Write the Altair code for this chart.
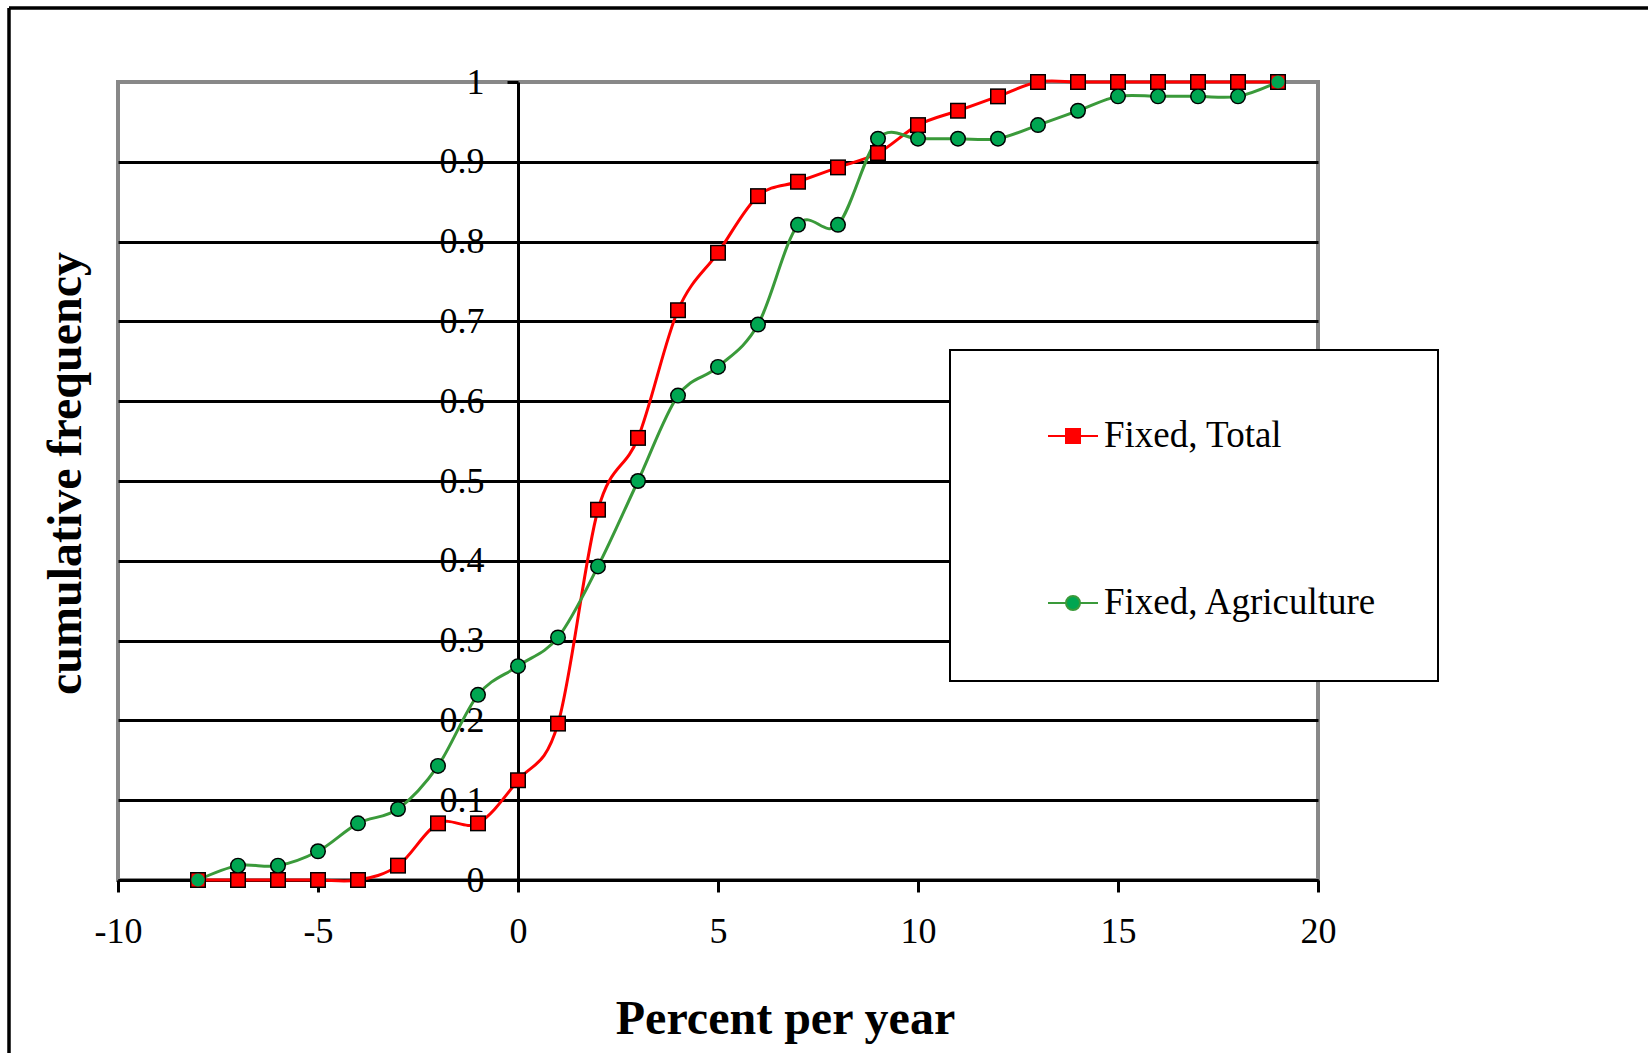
import altair as alt
import pandas as pd

# Growth rate (percent per year) and cumulative frequency of each series
growth = list(range(-8, 20))
fixed_total = [0, 0, 0, 0, 0, 0.018, 0.071, 0.071, 0.125, 0.196, 0.464, 0.554,
               0.714, 0.786, 0.857, 0.875, 0.893, 0.911, 0.946, 0.964, 0.982,
               1, 1, 1, 1, 1, 1, 1]
fixed_agri = [0, 0.018, 0.018, 0.036, 0.071, 0.089, 0.143, 0.232, 0.268, 0.304,
              0.393, 0.5, 0.607, 0.643, 0.696, 0.821, 0.821, 0.929, 0.929, 0.929,
              0.929, 0.946, 0.964, 0.982, 0.982, 0.982, 0.982, 1]

series_names = ["Fixed, Total", "Fixed, Agriculture"]
line_colors = {"Fixed, Total": "#ff0000", "Fixed, Agriculture": "#3a9a3a"}
fill_colors = {"Fixed, Total": "#ff0000", "Fixed, Agriculture": "#00a651"}
marker_shapes = {"Fixed, Total": "square", "Fixed, Agriculture": "circle"}

x_ticks = [-10, -5, 0, 5, 10, 15, 20]
y_ticks = [0, 0.1, 0.2, 0.3, 0.4, 0.5, 0.6, 0.7, 0.8, 0.9, 1]

rows = []
for name, values in zip(series_names, [fixed_total, fixed_agri]):
    for g, v in zip(growth, values):
        rows.append({"growth": g, "freq": v, "series": name, "marker": name})
df = pd.DataFrame(rows)

# alphabetical order, as used by the data-driven line-colour and shape scales
alpha_names = sorted(series_names)

W, H = 1200, 798
X_MIN, X_MAX = -10, 20
zero_px = (0 - X_MIN) / (X_MAX - X_MIN) * W  # where the vertical axis crosses

FONT = "Liberation Serif"

x_enc = alt.X(
    "growth:Q",
    scale=alt.Scale(domain=[X_MIN, X_MAX], nice=False, zero=False),
    axis=alt.Axis(
        values=x_ticks,
        labelExpr="'' + datum.value",
        grid=False,
        domainColor="black", domainWidth=3,
        tickColor="black", tickWidth=3, tickSize=12,
        labelFont=FONT, labelFontSize=36, labelColor="black",
        labelPadding=22, labelFlush=False,
        title="Percent per year",
        titleFont=FONT, titleFontSize=48, titleFontWeight="bold",
        titleColor="black", titleX=667, titleY=153,
        titleBaseline="alphabetic",
    ),
)

y_enc = alt.Y(
    "freq:Q",
    scale=alt.Scale(domain=[0, 1], nice=False),
    axis=alt.Axis(
        values=y_ticks,
        format="~g",
        offset=-zero_px,
        domainColor="black", domainWidth=3,
        tickColor="black", tickWidth=3, tickSize=11,
        labelFont=FONT, labelFontSize=36, labelColor="black",
        labelPadding=23,
        gridColor="black", gridWidth=3,
        gridOpacity={"condition": {"test": "datum.value >= 1", "value": 0}, "value": 1},
        title="cumulative frequency",
        titleFont=FONT, titleFontSize=48, titleFontWeight="bold",
        titleColor="black", titleX=-zero_px - 52, titleY=391,
        titleBaseline="middle",
    ),
)

# legend glyphs: a short line with the series marker in the middle
square_sym = "M-1,0H-0.28M0.28,0H1M-0.28,-0.28H0.28V0.28H-0.28Z"
circle_sym = "M-1,0H-0.28M0.28,0H1M-0.28,0A0.28,0.28 0 1,0 0.28,0A0.28,0.28 0 1,0 -0.28,0Z"
first = series_names[0]

legend = alt.Legend(
    title=None,
    orient="none",
    legendX=832, legendY=268,
    padding=60,
    fillColor="white", strokeColor="black",
    labelFont=FONT, labelFontSize=37, labelColor="black",
    labelLimit=600,
    labelOffset=5,
    symbolOffset=37,
    symbolSize=2500,
    rowPadding=123,
    symbolType={"expr": f"datum.value === '{first}' ? '{square_sym}' : '{circle_sym}'"},
    symbolStrokeColor={"expr": f"datum.value === '{first}' ? '{line_colors[first]}' : '{line_colors[series_names[1]]}'"},
    symbolStrokeWidth=2,
    symbolOpacity=1,
)

lines = alt.Chart(df).mark_line(interpolate="cardinal", strokeWidth=3).encode(
    x=x_enc, y=y_enc,
    color=alt.Color("series:N", scale=alt.Scale(range=[line_colors[n] for n in alpha_names]), legend=None),
    order=alt.Order("growth:Q"),
)

shape_enc = alt.Shape("marker:N", scale=alt.Scale(range=[marker_shapes[n] for n in alpha_names]), legend=None)

# black marker outlines underneath the coloured markers
marker_edges = alt.Chart(df).mark_point(filled=True, size=256, color="black", opacity=1).encode(
    x=x_enc, y=y_enc, shape=shape_enc,
)

markers = alt.Chart(df).mark_point(filled=True, size=170, opacity=1).encode(
    x=x_enc, y=y_enc, shape=shape_enc,
    fill=alt.Fill("series:N",
                  scale=alt.Scale(domain=series_names, range=[fill_colors[n] for n in series_names]),
                  legend=legend),
)

# outer frame of the figure (top and left edges)
frame = alt.Data(values=[{}])
frame_top = alt.Chart(frame).mark_rule(color="black", strokeWidth=3.5).encode(
    x=alt.value(-109), x2=alt.value(1530), y=alt.value(-74)
)
frame_left = alt.Chart(frame).mark_rule(color="black", strokeWidth=3.5).encode(
    x=alt.value(-109), y=alt.value(-74), y2=alt.value(971)
)

chart = alt.layer(lines, marker_edges, markers, frame_top, frame_left).properties(
    width=W, height=H,
    autosize=alt.AutoSizeParams(type="none"),
    padding={"left": 118, "top": 82, "right": 330, "bottom": 173},
    background="white",
).configure_view(
    stroke="#888888", strokeWidth=4
).configure_legend(
    strokeWidth=2
)

chart.save("out.html", embed_options={"renderer": "svg", "actions": False})
